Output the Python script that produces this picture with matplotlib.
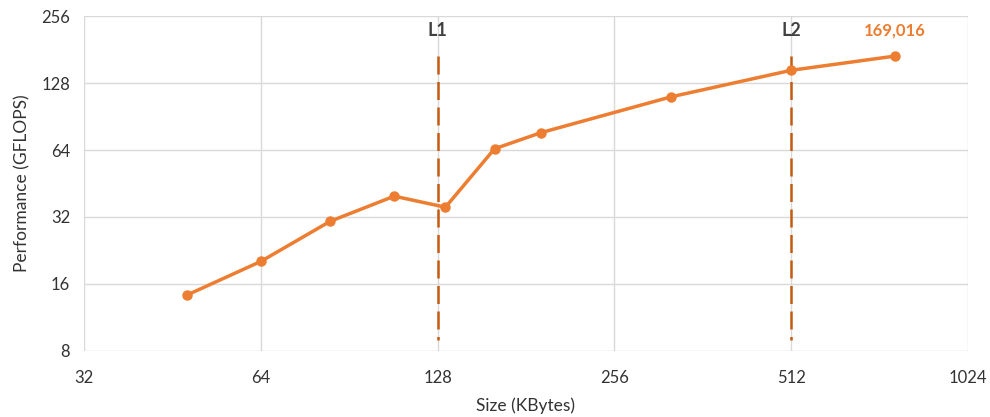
import matplotlib.pyplot as plt
from matplotlib.ticker import FixedLocator, NullLocator

plt.rcParams['font.family'] = ['Lato', 'DejaVu Sans']

# matrix size in KBytes vs achieved performance
sizes = [48, 64, 84, 108, 132, 160, 192, 320, 512, 768]
gflops = [14.3, 20.2, 30.6, 39.7, 35.4, 64.8, 76.6, 111, 146, 169.016]

cache_sizes = [128, 512]
cache_names = ['L1', 'L2']

x_ticks = [32, 64, 128, 256, 512, 1024]
y_ticks = [8, 16, 32, 64, 128, 256]

orange = '#ED7D31'
dark_orange = '#C55A11'
text_col = '#333333'

fig = plt.figure(figsize=(9.9, 4.17), dpi=100)
ax = fig.add_axes([0.0848, 0.1583, 0.893, 0.8033])

ax.set_xscale('log', base=2)
ax.set_yscale('log', base=2)
ax.set_xlim(32, 1024)
ax.set_ylim(8, 256)

ax.xaxis.set_major_locator(FixedLocator(x_ticks))
ax.yaxis.set_major_locator(FixedLocator(y_ticks))
ax.xaxis.set_minor_locator(NullLocator())
ax.yaxis.set_minor_locator(NullLocator())
ax.set_xticklabels([str(v) for v in x_ticks])
ax.set_yticklabels([str(v) for v in y_ticks])
ax.tick_params(length=0, labelsize=12, labelcolor=text_col, pad=14)
ax.tick_params(axis='y', pad=10)

ax.grid(True, color='#D9D9D9', linewidth=1)
for s in ax.spines.values():
    s.set_visible(False)
ax.set_axisbelow(True)

# cache boundaries, drawn top-down so the dash pattern starts at the top
for c, name in zip(cache_sizes, cache_names):
    ax.plot([c, c], [169, 9], color=dark_orange, linewidth=1.8, dashes=(7.2, 3))
    ax.text(c, 221, name, ha='center', va='center', fontsize=13,
            fontweight='bold', color='#404040')

ax.plot(sizes, gflops, color=orange, linewidth=2.5, marker='o',
        markersize=6.5, zorder=3)
ax.text(sizes[-1], 221, f'{gflops[-1]:.3f}'.replace('.', ','), ha='center',
        va='center', fontsize=12, fontweight='bold', color=orange)

ax.set_xlabel('Size (KBytes)', fontsize=12.5, color=text_col, labelpad=8)
ax.set_ylabel('Performance (GFLOPS)', fontsize=12.5, color=text_col, labelpad=8)

fig.savefig('out.png', dpi=100)
